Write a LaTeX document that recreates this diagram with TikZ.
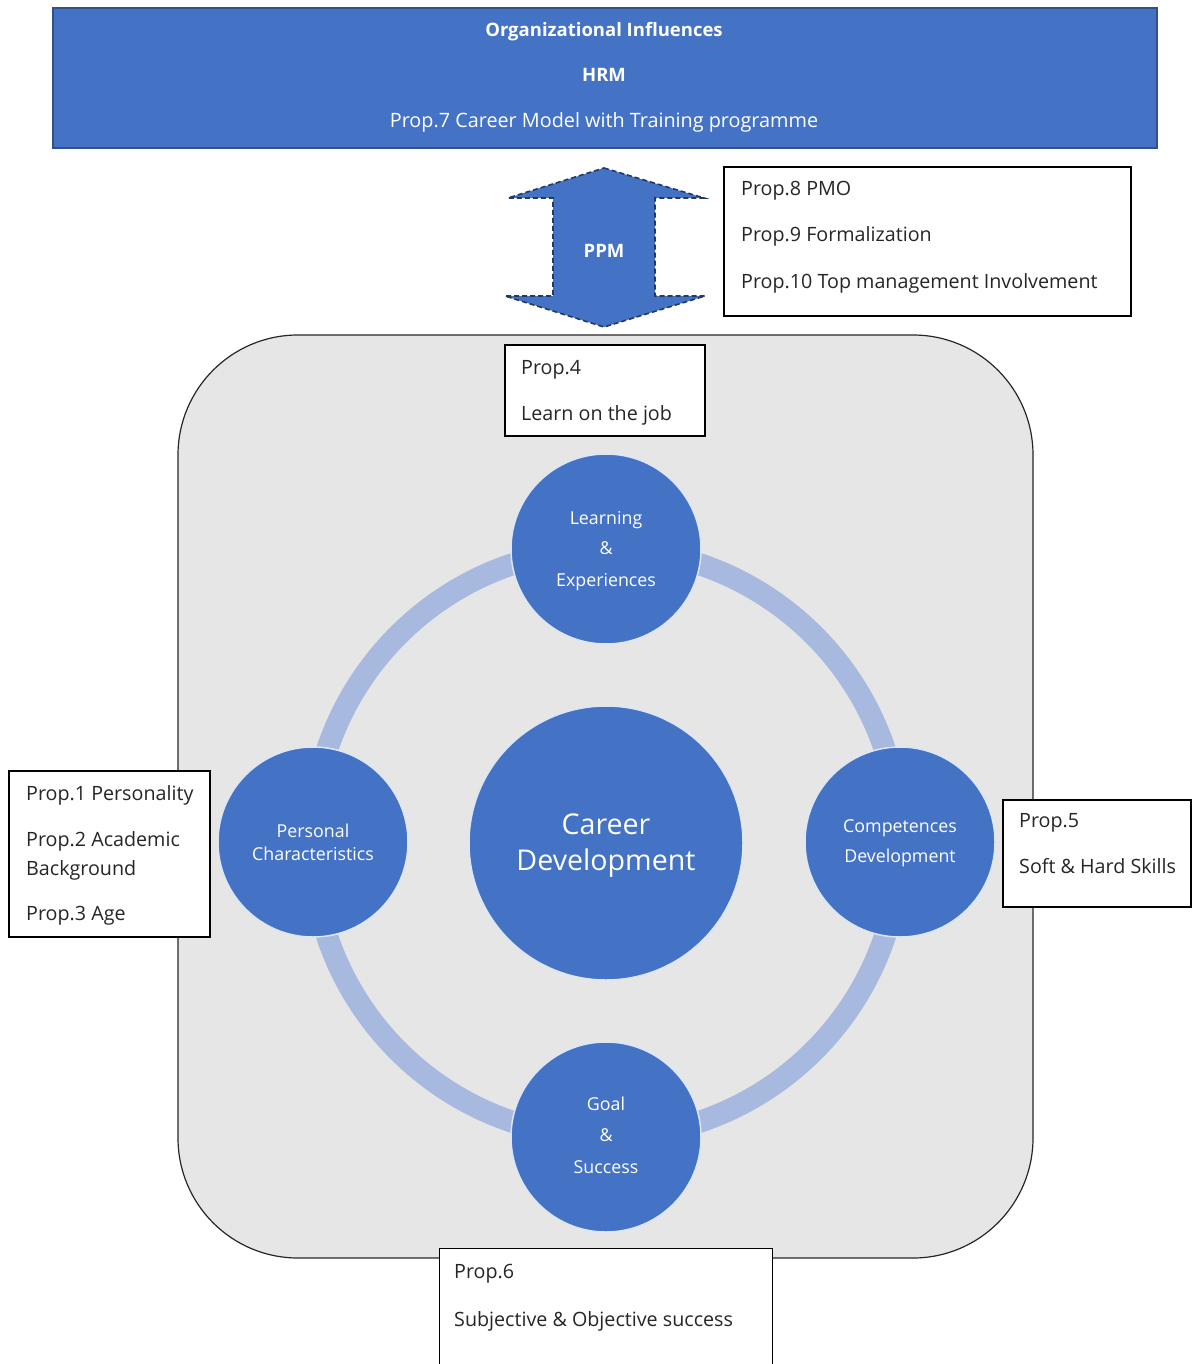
\documentclass[tikz,border=0pt]{standalone}
\usepackage{fontspec}
\setmainfont{Open Sans}
\definecolor{accent}{HTML}{4472C4}
\definecolor{accentdark}{HTML}{2F528F}
\definecolor{ringblue}{HTML}{A8B9E0}
\definecolor{panelgray}{HTML}{E7E6E6}
\definecolor{circleedge}{HTML}{DCE6F5}
\begin{document}
\begin{tikzpicture}[x=1pt,y=-1pt,
  banner/.style={rectangle,fill=accent,draw=accentdark,line width=1.2pt,inner sep=0pt},
  bantext/.style={text=white,font=\fontsize{19.8}{23}\selectfont,anchor=base},
  bantitle/.style={text=white,font=\fontsize{18.5}{22}\selectfont\bfseries,anchor=base},
  panel/.style={rectangle,fill=panelgray,draw=black!85,line width=1.2pt,inner sep=0pt,rounded corners=120pt},
  ring/.style={draw=ringblue,line width=22pt},
  stage/.style={circle,fill=accent,draw=circleedge,line width=1.5pt,minimum size=190pt,inner sep=0pt},
  core/.style={circle,fill=accent,draw=circleedge,line width=1.5pt,minimum size=274pt,inner sep=0pt},
  stagetext/.style={text=white,font=\fontsize{17.8}{21}\selectfont,anchor=base,inner sep=0pt},
  coretext/.style={text=white,font=\fontsize{28.6}{33}\selectfont,anchor=base,inner sep=0pt},
  propbox/.style={rectangle,fill=white,draw=black,line width=1.2pt,inner sep=0pt},
  proptext/.style={font=\fontsize{19.7}{23}\selectfont,anchor=base west,inner sep=0pt,text=black!85},
  ppmarrow/.style={fill=accent,draw=accentdark!70!black,line width=1.6pt,dash pattern=on 5pt off 3pt}
]
\useasboundingbox (0,0) rectangle (1192,1364);

% Organisational layer across the top
\node[banner,minimum width=1104pt,minimum height=140pt] (hrm) at (605,78) {};
\node[bantitle] (orgt) at (604,37) {Organizational Influences};
\node[bantitle] (hrmt) at (604,82) {HRM};
\node[bantext] (prop7) at (604,128) {Prop.7 Career Model with Training programme};

% Two-way PPM arrow between the layers
\draw[ppmarrow] (604,168) -- (704,198) -- (655,198) -- (655,296) -- (705,296)
  -- (604,327) -- (505,296) -- (553,296) -- (553,198) -- (508,198) -- cycle;
\node[text=white,font=\fontsize{18.5}{22}\selectfont\bfseries] (ppm) at (604,251) {PPM};

% Project-management propositions
\node[propbox,minimum width=407pt,minimum height=149pt] (p810) at (927.5,241.5) {};
\node[proptext] (p8) at (741,196) {Prop.8 PMO};
\node[proptext] (p9) at (741,242) {Prop.9 Formalization};
\node[proptext] (p10) at (741,288) {Prop.10 Top management Involvement};

% Individual layer
\node[panel,minimum width=855pt,minimum height=923pt] (panel) at (605.5,796.5) {};

\coordinate (hub) at (606,843);
\draw[ring] (hub) circle[radius=294pt];

\node[core] (career) at (hub) {};
\node[coretext] (c1) at (606,834) {Career};
\node[coretext] (c2) at (606,870) {Development};

\node[stage] (learn) at (606,549) {};
\node[stagetext] (l1) at (606,524) {Learning};
\node[stagetext] (l2) at (606,554) {\&};
\node[stagetext] (l3) at (606,586) {Experiences};

\node[stage] (person) at (313,842) {};
\node[stagetext] (pc1) at (313,837) {Personal};
\node[stagetext] (pc2) at (313,860) {Characteristics};

\node[stage] (comp) at (900,842) {};
\node[stagetext] (cd1) at (900,832) {Competences};
\node[stagetext] (cd2) at (900,862) {Development};

\node[stage] (goal) at (606,1137) {};
\node[stagetext] (g1) at (606,1110) {Goal};
\node[stagetext] (g2) at (606,1141) {\&};
\node[stagetext] (g3) at (606,1173) {Success};

% Propositions attached to each stage
\node[propbox,minimum width=200pt,minimum height=91pt] (p4box) at (605,390.5) {};
\node[proptext] (p4a) at (521,374) {Prop.4};
\node[proptext] (p4b) at (521,420) {Learn on the job};

\node[propbox,minimum width=201pt,minimum height=166pt] (p13box) at (109.5,854) {};
\node[proptext] (p1) at (26,800) {Prop.1 Personality};
\node[proptext] (p2a) at (26,846) {Prop.2 Academic};
\node[proptext] (p2b) at (26,875) {Background};
\node[proptext] (p3) at (26,920) {Prop.3 Age};

\node[propbox,minimum width=188pt,minimum height=107pt] (p5box) at (1097,853.5) {};
\node[proptext] (p5a) at (1019,827) {Prop.5};
\node[proptext] (p5b) at (1019,873) {Soft \& Hard Skills};

\node[propbox,draw=none,minimum width=332pt,minimum height=118pt] (p6box) at (606,1308) {};
\draw[line width=1.2pt] (p6box.south west) |- (p6box.north east) -- (p6box.south east);
\node[proptext] (p6a) at (454,1278) {Prop.6};
\node[proptext] (p6b) at (454,1326) {Subjective \& Objective success};
\end{tikzpicture}
\end{document}
